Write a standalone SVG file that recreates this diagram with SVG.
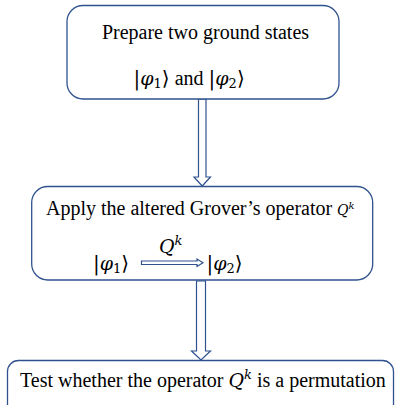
<svg xmlns="http://www.w3.org/2000/svg" width="395" height="405" viewBox="0 0 395 405">
<style>
.box{fill:#fff;stroke:#2F528F;stroke-width:1.3}
.arr{fill:#fff;stroke:#2F528F;stroke-width:1.2;stroke-linejoin:miter}
text{font-family:"Liberation Serif","Times New Roman",serif;font-size:20px;fill:#000}
.m{font-family:"DejaVu Serif","Liberation Serif",serif;font-style:italic;font-size:19px}
.d{font-family:"DejaVu Serif","Liberation Serif",serif}
.sub{font-size:13px}
</style>
<rect width="395" height="405" fill="#fff"/>
<g id="connectors">
<polygon class="arr" points="198.5,99 206,99 206,177 210.5,177 202.2,186 194,177 198.5,177"/>
<polygon class="arr" points="196.5,281 205.5,281 205.5,351 210.5,351 201,360 191.5,351 196.5,351"/>
</g>
<g id="node1">
<rect class="box" x="67" y="5.5" width="272" height="93.5" rx="16"/>
<text x="205.5" y="39" text-anchor="middle">Prepare two ground states</text>
<text x="133.5" y="85"><tspan class="d">|</tspan><tspan class="m">φ</tspan><tspan class="sub d" dy="3">1</tspan><tspan class="d" dy="-3">⟩</tspan> and <tspan class="d">|</tspan><tspan class="m">φ</tspan><tspan class="sub d" dy="3">2</tspan><tspan class="d" dy="-3">⟩</tspan></text>
</g>
<g id="node2">
<rect class="box" x="31.7" y="186.5" width="341" height="93.5" rx="16"/>
<text x="46" y="215">Apply the altered Grover’s operator</text>
<text x="337" y="215" class="m" style="font-size:14px">Q<tspan style="font-size:10px" dy="-6">k</tspan></text>
<text x="93" y="270"><tspan class="d">|</tspan><tspan class="m">φ</tspan><tspan class="sub d" dy="3">1</tspan><tspan class="d" dy="-3">⟩</tspan></text>
<polygon class="arr" stroke-width="1" points="141.5,261 197,261 197,259 203,262.7 197,266.5 197,264.5 141.5,264.5"/>
<text x="159" y="253" class="m">Q<tspan style="font-size:13px" dy="-8">k</tspan></text>
<text x="206.5" y="270"><tspan class="d">|</tspan><tspan class="m">φ</tspan><tspan class="sub d" dy="3">2</tspan><tspan class="d" dy="-3">⟩</tspan></text>
</g>
<g id="node3">
<rect class="box" x="7.5" y="360.5" width="386" height="60" rx="11"/>
<text x="20" y="387">Test whether the operator <tspan class="m">Q</tspan><tspan class="m" style="font-size:13px" dy="-8">k</tspan><tspan dy="8"> is a permutation</tspan></text>
</g>
</svg>
